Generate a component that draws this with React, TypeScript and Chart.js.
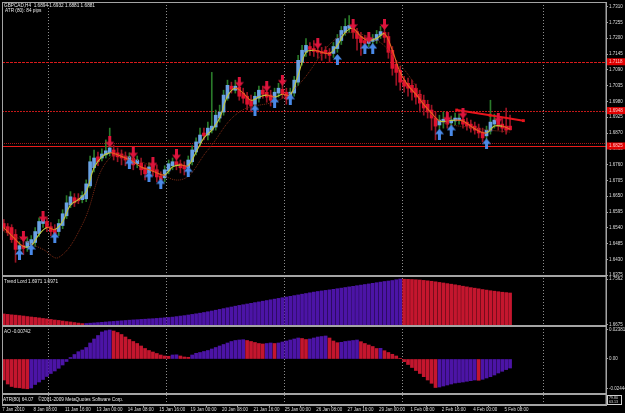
import React, { useEffect, useRef } from 'react';
import { Chart, registerables } from 'chart.js';

Chart.register(...registerables);

// ---------------- data ----------------
const xTickLabels = ['7 Jan 2010', '8 Jan 08:00', '11 Jan 16:00', '13 Jan 00:00', '14 Jan 08:00', '15 Jan 16:00', '19 Jan 00:00', '20 Jan 08:00', '21 Jan 16:00', '25 Jan 00:00', '26 Jan 08:00', '27 Jan 16:00', '29 Jan 00:00', '1 Feb 08:00', '2 Feb 16:00', '4 Feb 00:00', '5 Feb 08:00'];
const xTickBars = [0, 8, 16, 24, 32, 40, 48, 56, 64, 72, 80, 88, 96, 104, 112, 120, 128];
const priceTicks = [1.6375, 1.643, 1.6485, 1.654, 1.6595, 1.665, 1.6705, 1.676, 1.6815, 1.687, 1.6925, 1.698, 1.7035, 1.709, 1.7145, 1.72, 1.7255, 1.731];

// [open, high, low, close] per H4 bar
const candles = [
  [1.6555, 1.6569, 1.6530, 1.6541], [1.6544, 1.6555, 1.6513, 1.6523], [1.6541, 1.6551, 1.6489, 1.6499], [1.6517, 1.6534, 1.6420, 1.6465],
  [1.6465, 1.6492, 1.6437, 1.6478], [1.6478, 1.6499, 1.6447, 1.6468], [1.6472, 1.6506, 1.6458, 1.6492], [1.6482, 1.6513, 1.6465, 1.6499],
  [1.6489, 1.6541, 1.6475, 1.6527], [1.6520, 1.6575, 1.6510, 1.6562], [1.6555, 1.6593, 1.6541, 1.6569], [1.6562, 1.6575, 1.6527, 1.6541],
  [1.6544, 1.6558, 1.6513, 1.6527], [1.6534, 1.6551, 1.6499, 1.6520], [1.6527, 1.6569, 1.6513, 1.6555], [1.6548, 1.6603, 1.6537, 1.6589],
  [1.6582, 1.6652, 1.6572, 1.6627], [1.6620, 1.6666, 1.6610, 1.6648], [1.6645, 1.6659, 1.6614, 1.6627], [1.6641, 1.6659, 1.6624, 1.6634],
  [1.6638, 1.6666, 1.6627, 1.6652], [1.6641, 1.6707, 1.6631, 1.6693], [1.6686, 1.6790, 1.6679, 1.6770], [1.6749, 1.6811, 1.6735, 1.6783],
  [1.6787, 1.6804, 1.6756, 1.6770], [1.6783, 1.6815, 1.6773, 1.6797], [1.6794, 1.6846, 1.6783, 1.6808], [1.6801, 1.6887, 1.6790, 1.6818],
  [1.6811, 1.6828, 1.6776, 1.6790], [1.6801, 1.6818, 1.6770, 1.6787], [1.6797, 1.6811, 1.6759, 1.6783], [1.6790, 1.6804, 1.6756, 1.6776],
  [1.6773, 1.6801, 1.6759, 1.6787], [1.6783, 1.6797, 1.6742, 1.6759], [1.6763, 1.6790, 1.6749, 1.6776], [1.6766, 1.6783, 1.6724, 1.6742],
  [1.6749, 1.6759, 1.6707, 1.6728], [1.6731, 1.6766, 1.6714, 1.6752], [1.6756, 1.6776, 1.6721, 1.6738], [1.6742, 1.6759, 1.6700, 1.6717],
  [1.6721, 1.6735, 1.6676, 1.6707], [1.6714, 1.6756, 1.6700, 1.6742], [1.6738, 1.6776, 1.6728, 1.6763], [1.6756, 1.6783, 1.6742, 1.6770],
  [1.6770, 1.6783, 1.6742, 1.6759], [1.6763, 1.6776, 1.6731, 1.6749], [1.6756, 1.6770, 1.6724, 1.6745], [1.6749, 1.6790, 1.6735, 1.6776],
  [1.6770, 1.6825, 1.6759, 1.6811], [1.6804, 1.6853, 1.6794, 1.6839], [1.6835, 1.6887, 1.6825, 1.6863], [1.6870, 1.6887, 1.6846, 1.6860],
  [1.6863, 1.6908, 1.6846, 1.6887], [1.6880, 1.7081, 1.6870, 1.6894], [1.6891, 1.6950, 1.6880, 1.6932], [1.6922, 1.6967, 1.6908, 1.6943],
  [1.6943, 1.7019, 1.6932, 1.7002], [1.6991, 1.7054, 1.6984, 1.7036], [1.7033, 1.7047, 1.7009, 1.7022], [1.7019, 1.7054, 1.7009, 1.7033],
  [1.7029, 1.7043, 1.6984, 1.6998], [1.7009, 1.7026, 1.6974, 1.6991], [1.6998, 1.7012, 1.6950, 1.6970], [1.6984, 1.7002, 1.6943, 1.6964],
  [1.6970, 1.7012, 1.6957, 1.6998], [1.6991, 1.7033, 1.6977, 1.7019], [1.7019, 1.7033, 1.6991, 1.7005], [1.7012, 1.7026, 1.6977, 1.6995],
  [1.7002, 1.7019, 1.6964, 1.6984], [1.6991, 1.7026, 1.6977, 1.7012], [1.7009, 1.7043, 1.6995, 1.7026], [1.7022, 1.7040, 1.6991, 1.7005],
  [1.7012, 1.7026, 1.6970, 1.6988], [1.6995, 1.7026, 1.6974, 1.7012], [1.7009, 1.7067, 1.6998, 1.7054], [1.7047, 1.7140, 1.7036, 1.7123],
  [1.7116, 1.7175, 1.7106, 1.7158], [1.7151, 1.7199, 1.7137, 1.7175], [1.7171, 1.7185, 1.7140, 1.7161], [1.7164, 1.7192, 1.7137, 1.7154],
  [1.7158, 1.7178, 1.7130, 1.7151], [1.7154, 1.7168, 1.7123, 1.7147], [1.7158, 1.7171, 1.7130, 1.7147], [1.7151, 1.7164, 1.7116, 1.7140],
  [1.7147, 1.7185, 1.7133, 1.7171], [1.7164, 1.7213, 1.7151, 1.7199], [1.7192, 1.7241, 1.7178, 1.7227], [1.7220, 1.7268, 1.7210, 1.7241],
  [1.7234, 1.7279, 1.7220, 1.7244], [1.7237, 1.7255, 1.7199, 1.7220], [1.7223, 1.7234, 1.7158, 1.7199], [1.7206, 1.7220, 1.7140, 1.7185],
  [1.7192, 1.7210, 1.7164, 1.7182], [1.7182, 1.7210, 1.7171, 1.7196], [1.7189, 1.7213, 1.7178, 1.7199], [1.7192, 1.7227, 1.7182, 1.7213],
  [1.7210, 1.7241, 1.7199, 1.7223], [1.7220, 1.7234, 1.7185, 1.7203], [1.7206, 1.7220, 1.7130, 1.7151], [1.7158, 1.7171, 1.7071, 1.7095],
  [1.7109, 1.7123, 1.7036, 1.7081], [1.7088, 1.7102, 1.7019, 1.7047], [1.7054, 1.7067, 1.7012, 1.7033], [1.7043, 1.7061, 1.6998, 1.7026],
  [1.7036, 1.7054, 1.6984, 1.7012], [1.7026, 1.7040, 1.6970, 1.6995], [1.7005, 1.7019, 1.6943, 1.6974], [1.6984, 1.7002, 1.6932, 1.6957],
  [1.6970, 1.6984, 1.6922, 1.6943], [1.6950, 1.6967, 1.6880, 1.6922], [1.6922, 1.6943, 1.6846, 1.6894], [1.6898, 1.6932, 1.6880, 1.6915],
  [1.6908, 1.6943, 1.6887, 1.6918], [1.6915, 1.6932, 1.6887, 1.6901], [1.6905, 1.6929, 1.6891, 1.6915], [1.6912, 1.6939, 1.6898, 1.6922],
  [1.6915, 1.6936, 1.6901, 1.6922], [1.6918, 1.6932, 1.6887, 1.6901], [1.6908, 1.6922, 1.6880, 1.6894], [1.6901, 1.6915, 1.6873, 1.6887],
  [1.6894, 1.6908, 1.6866, 1.6880], [1.6887, 1.6901, 1.6853, 1.6870], [1.6873, 1.6887, 1.6839, 1.6853], [1.6860, 1.6894, 1.6846, 1.6880],
  [1.6877, 1.6984, 1.6866, 1.6908], [1.6901, 1.6936, 1.6887, 1.6915], [1.6912, 1.6925, 1.6880, 1.6894], [1.6901, 1.6922, 1.6873, 1.6887],
  [1.6894, 1.6957, 1.6866, 1.6880], [1.6894, 1.6932, 1.6881, 1.6881],
];

const maFastBars = [0, 3, 5, 7, 9, 11, 13, 15, 17, 19, 21, 23, 25, 27, 29, 31, 33, 35, 37, 39, 41, 43, 45, 47, 49, 51, 53, 55, 57, 59, 61, 63, 65, 67, 69, 71, 73, 75, 77, 79, 81, 83, 85, 87, 89, 91, 93, 95, 97, 99, 101, 103, 105, 107, 109, 111, 113, 115, 117, 119, 121, 123, 125, 127, 129];
const maFastVals = [1.6541, 1.6499, 1.6475, 1.6478, 1.6517, 1.6541, 1.6534, 1.6562, 1.6620, 1.6638, 1.6666, 1.6749, 1.6787, 1.6801, 1.6794, 1.6783, 1.6770, 1.6752, 1.6742, 1.6731, 1.6724, 1.6752, 1.6759, 1.6756, 1.6804, 1.6853, 1.6880, 1.6922, 1.6998, 1.7026, 1.7009, 1.6984, 1.6995, 1.7002, 1.6995, 1.7005, 1.7002, 1.7071, 1.7151, 1.7158, 1.7151, 1.7147, 1.7175, 1.7220, 1.7234, 1.7206, 1.7192, 1.7199, 1.7216, 1.7158, 1.7081, 1.7036, 1.7005, 1.6970, 1.6939, 1.6912, 1.6912, 1.6915, 1.6912, 1.6894, 1.6877, 1.6870, 1.6894, 1.6894, 1.6884];

const maSlowBars = [0, 10, 14, 20, 27, 35, 45, 52, 60, 70, 75, 86, 95, 100, 104, 110, 120, 129];
const maSlowVals = [1.6527, 1.6465, 1.6437, 1.6551, 1.6783, 1.6770, 1.6707, 1.6811, 1.6943, 1.6984, 1.7036, 1.7210, 1.7192, 1.7123, 1.7054, 1.6922, 1.6887, 1.6873];

const arrowDownBars = [5, 10, 27, 33, 38, 44, 60, 67, 71, 80, 89, 93, 97, 113, 117, 126];
const arrowDownVals = [1.6510, 1.6579, 1.6839, 1.6801, 1.6766, 1.6794, 1.7047, 1.7033, 1.7054, 1.7182, 1.7248, 1.7203, 1.7248, 1.6925, 1.6939, 1.6922];
const arrowUpBars = [4, 7, 13, 32, 37, 40, 47, 64, 69, 73, 85, 92, 94, 111, 114, 123];
const arrowUpVals = [1.6447, 1.6465, 1.6506, 1.6763, 1.6717, 1.6693, 1.6735, 1.6950, 1.6977, 1.6988, 1.7126, 1.7164, 1.7164, 1.6866, 1.6880, 1.6832];

const levelPrices = [1.7118, 1.6948, 1.6836, 1.6825];
const levelBoxIdx = [0, 1, 3];
const trendBars = [115.4, 123.9, 132.4];
const trendVals = [1.6950, 1.6932, 1.6913];
const gridBars = [11.3, 41.3, 71.4, 101.4, 137.4];

const trendLord = [
  1.6888, 1.6880, 1.6871, 1.6865, 1.6857, 1.6848, 1.6838, 1.6829, 1.6821, 1.6812, 1.6801, 1.6793, 1.6782, 1.6771, 1.6763, 1.6752, 1.6741, 1.6733, 1.6722, 1.6712, 1.6702,
  1.6704, 1.6710, 1.6715, 1.6721, 1.6727, 1.6733, 1.6739, 1.6744, 1.6750, 1.6756, 1.6762, 1.6768, 1.6773, 1.6777, 1.6783, 1.6787, 1.6793, 1.6796, 1.6802, 1.6808,
  1.6814, 1.6820, 1.6827, 1.6837, 1.6847, 1.6856, 1.6868, 1.6879, 1.6891, 1.6903, 1.6916, 1.6930, 1.6945, 1.6960, 1.6976, 1.6991, 1.7007, 1.7022, 1.7038, 1.7053,
  1.7066, 1.7080, 1.7093, 1.7107, 1.7120, 1.7134, 1.7147, 1.7161, 1.7174, 1.7188, 1.7201, 1.7215, 1.7228, 1.7242, 1.7255, 1.7269, 1.7282, 1.7296, 1.7309, 1.7321,
  1.7332, 1.7342, 1.7352, 1.7363, 1.7375, 1.7386, 1.7398, 1.7410, 1.7421, 1.7433, 1.7444, 1.7456, 1.7467, 1.7479, 1.7491, 1.7502, 1.7514, 1.7523, 1.7533, 1.7548, 1.7562,
  1.7558, 1.7555, 1.7552, 1.7548, 1.7543, 1.7535, 1.7527, 1.7518, 1.7508, 1.7496, 1.7485, 1.7473, 1.7462, 1.7450, 1.7437, 1.7423, 1.7410, 1.7396, 1.7385, 1.7373,
  1.7359, 1.7348, 1.7336, 1.7327, 1.7317, 1.7307, 1.7300, 1.7292,
];
const trendLordTicks = [1.6675, 1.7562];

const aoValues = [
  -0.01724, -0.02053, -0.02258, -0.02340, -0.02364, -0.02414, -0.02444, -0.02381, -0.02094, -0.01888,
  -0.01683, -0.01437, -0.01190, -0.00985, -0.00764, -0.00493, -0.00205, 0.00123, 0.00369, 0.00599,
  0.00739, 0.00944, 0.01314, 0.01642, 0.01929, 0.02217, 0.02323, 0.02381, 0.02299, 0.02176,
  0.02011, 0.01806, 0.01601, 0.01437, 0.01273, 0.01067, 0.00862, 0.00698, 0.00575, 0.00452,
  0.00328, 0.00246, 0.00222, 0.00328, 0.00345, 0.00246, 0.00164, 0.00140, 0.00328, 0.00468,
  0.00534, 0.00616, 0.00698, 0.00821, 0.00944, 0.01067, 0.01190, 0.01314, 0.01437, 0.01519,
  0.01560, 0.01585, 0.01519, 0.01437, 0.01355, 0.01273, 0.01232, 0.01273, 0.01314, 0.01273,
  0.01314, 0.01396, 0.01478, 0.01560, 0.01642, 0.01724, 0.01683, 0.01601, 0.01642, 0.01724,
  0.01806, 0.01847, 0.01888, 0.01724, 0.01478, 0.01338, 0.01371, 0.01437, 0.01478, 0.01519,
  0.01560, 0.01420, 0.01273, 0.01149, 0.01026, 0.00862, 0.00878, 0.00681, 0.00534, 0.00386,
  0.00246, 0.00057, -0.00222, -0.00452, -0.00698, -0.00944, -0.01190, -0.01453, -0.01724, -0.01995,
  -0.02340, -0.02299, -0.02217, -0.02135, -0.02053, -0.01970, -0.01929, -0.01888, -0.01831, -0.01782,
  -0.01724, -0.01749, -0.01667, -0.01560, -0.01453, -0.01314, -0.01150, -0.01010, -0.00870, -0.00742,
];
const aoTicks = [0.02381, 0, -0.02444];
const atrAxisLabels = ['79.80', '63.13'];

const headerLine1 = 'GBPCAD,H4  1.6894 1.6932 1.6881 1.6881';
const headerLine2 = 'ATR (80): 84 pips';
const trendLordTitle = 'Trend Lord 1.6971 1.6971';
const aoTitle = 'AO -0.00742';
const atrTitle = 'ATR(80) 64.07';
const copyrightText = '\u00A92001-2009 MetaQuotes Software Corp.';

// ---------------- layout / style ----------------
const FONT = 'Liberation Sans';
const X_MIN = -0.45;
const X_MAX = 153.44;
const MAIN_MIN = 1.63723;
const MAIN_MAX = 1.7326;
const TL_MIN = 1.66557;
const TL_MAX = 1.76199;
const AO_MIN = -0.02874;
const AO_MAX = 0.02709;
const GREY = '#a4a4a4';
const LABEL = '#dedede';
const PURPLE = '#4c14a6';
const CRIMSON = '#c4162e';
const levelStyles = [
  { color: '#d81a1a', dash: [3, 1] },
  { color: '#c41818', dash: [2, 1] },
  { color: '#a81616', dash: [1, 1] },
  { color: '#e81c1c', dash: [] },
];

function makeArrow(color: string, up: boolean) {
  const c = document.createElement('canvas');
  c.width = 9;
  c.height = 11;
  const g = c.getContext('2d')!;
  g.fillStyle = color;
  g.beginPath();
  if (up) {
    g.moveTo(4.5, 0); g.lineTo(9, 5.5); g.lineTo(6, 5.5); g.lineTo(6, 11);
    g.lineTo(3, 11); g.lineTo(3, 5.5); g.lineTo(0, 5.5);
  } else {
    g.moveTo(4.5, 11); g.lineTo(9, 5.5); g.lineTo(6, 5.5); g.lineTo(6, 0);
    g.lineTo(3, 0); g.lineTo(3, 5.5); g.lineTo(0, 5.5);
  }
  g.closePath();
  g.fill();
  return c;
}

const mtPlugin = {
  id: 'mtDecor',
  beforeDatasetsDraw(chart: any) {
    const { ctx, chartArea: a, scales } = chart;
    const xs = scales.x;
    const ys = scales.y;
    ctx.save();
    ctx.strokeStyle = '#8e8e8e';
    ctx.lineWidth = 1;
    ctx.setLineDash([1, 2]);
    for (const b of gridBars) {
      const px = Math.round(xs.getPixelForValue(b)) + 0.5;
      ctx.beginPath();
      ctx.moveTo(px, a.top);
      ctx.lineTo(px, a.bottom);
      ctx.stroke();
    }
    levelPrices.forEach((p, i) => {
      const py = Math.round(ys.getPixelForValue(p)) + 0.5;
      ctx.strokeStyle = levelStyles[i].color;
      ctx.setLineDash(levelStyles[i].dash);
      ctx.beginPath();
      ctx.moveTo(a.left, py);
      ctx.lineTo(a.right, py);
      ctx.stroke();
    });
    ctx.restore();
  },
  afterDraw(chart: any) {
    const { ctx, chartArea: a, scales } = chart;
    ctx.save();
    ctx.strokeStyle = GREY;
    ctx.lineWidth = 1;
    ctx.setLineDash([]);
    for (const id of ['y', 'yTL', 'yAO', 'yATR']) {
      const s = scales[id];
      ctx.strokeRect(a.left + 0.5, s.top + 0.5, a.right - a.left - 0.5, s.bottom - s.top - 1);
    }
    const ys = scales.y;
    ctx.font = `4.5px "${FONT}"`;
    ctx.textBaseline = 'middle';
    for (const i of levelBoxIdx) {
      const py = ys.getPixelForValue(levelPrices[i]);
      ctx.fillStyle = '#e00000';
      ctx.fillRect(a.right + 1, py - 3.5, 625 - a.right - 1, 7);
      ctx.fillStyle = '#ffc4c4';
      ctx.fillText(levelPrices[i].toFixed(4), a.right + 3, py);
    }
    const sa = scales.yATR;
    ctx.strokeStyle = '#cfcfcf';
    ctx.strokeRect(a.right + 1.5, sa.top + 1.5, 14, sa.bottom - sa.top - 2);
    ctx.fillStyle = LABEL;
    ctx.font = `3.6px "${FONT}"`;
    ctx.fillText(atrAxisLabels[0], a.right + 3, sa.top + 3.6);
    ctx.fillText(atrAxisLabels[1], a.right + 3, sa.top + 7.6);
    ctx.font = `4.7px "${FONT}"`;
    ctx.fillStyle = '#e8e8e8';
    ctx.fillText(headerLine1, a.left + 2, ys.top + 3.5);
    ctx.fillText(headerLine2, a.left + 3, ys.top + 9);
    ctx.fillText(trendLordTitle, a.left + 2, scales.yTL.top + 5.5);
    ctx.fillText(aoTitle, a.left + 2, scales.yAO.top + 5.5);
    ctx.fillText(copyrightText, a.left + 36, sa.top + 5.5);
    ctx.fillText(atrTitle, a.left + 1, sa.top + 5.5);
    ctx.restore();
  },
};

export default function App() {
  const ref = useRef<HTMLCanvasElement>(null);

  useEffect(() => {
    const canvas = ref.current;
    if (!canvas) return;
    const downImg = makeArrow('#dc143c', false);
    const upImg = makeArrow('#4a8ae8', true);
    const bull = candles.map((c) => c[3] >= c[0]);
    const tickFont = { family: FONT, size: 4.5 };

    const yBase = () => ({
      type: 'linear',
      position: 'right',
      stack: 'panes',
      offset: false,
      grid: { display: true, drawOnChartArea: false, drawTicks: true, tickLength: 2, color: GREY },
      border: { display: true, color: GREY },
      afterFit: (s: any) => { s.width = 19; s.paddingTop = 0; s.paddingBottom = 0; },
    });

    const chart = new Chart(canvas, {
      type: 'bar',
      data: {
        datasets: [
          {
            type: 'line', label: 'down', yAxisID: 'y', order: 0, showLine: false,
            data: arrowDownBars.map((b, i) => ({ x: b, y: arrowDownVals[i] })),
            pointStyle: downImg, pointRadius: 4,
          },
          {
            type: 'line', label: 'up', yAxisID: 'y', order: 0, showLine: false,
            data: arrowUpBars.map((b, i) => ({ x: b, y: arrowUpVals[i] })),
            pointStyle: upImg, pointRadius: 4,
          },
          {
            type: 'line', label: 'trendline', yAxisID: 'y', order: 1,
            data: trendBars.map((b, i) => ({ x: b, y: trendVals[i] })),
            borderColor: '#e8141c', borderWidth: 2, pointStyle: 'rect', pointRadius: 2,
            pointBackgroundColor: '#e8141c', pointBorderWidth: 0, tension: 0,
          },
          {
            type: 'line', label: 'maFast', yAxisID: 'y', order: 2,
            data: maFastBars.map((b, i) => ({ x: b, y: maFastVals[i] })),
            borderWidth: 1.1, pointRadius: 0, tension: 0.35, borderColor: '#c8cc38',
            segment: { borderColor: (c: any) => (c.p1.parsed.y >= c.p0.parsed.y ? '#bfc83a' : '#e4641e') },
          },
          {
            type: 'line', label: 'maSlow', yAxisID: 'y', order: 3,
            data: maSlowBars.map((b, i) => ({ x: b, y: maSlowVals[i] })),
            borderWidth: 1, borderColor: '#7e2a14', borderDash: [1, 1], pointRadius: 0, tension: 0.4,
          },
          {
            type: 'bar', label: 'body', yAxisID: 'y', order: 4, grouped: false, barThickness: 3, minBarLength: 1,
            data: candles.map((c, i) => ({ x: i, y: [c[0], c[3]] })),
            backgroundColor: bull.map((b) => (b ? '#6aa2e4' : '#e0122e')),
          },
          {
            type: 'bar', label: 'wick', yAxisID: 'y', order: 5, grouped: false, barThickness: 1,
            data: candles.map((c, i) => ({ x: i, y: [c[2], c[1]] })),
            backgroundColor: bull.map((b) => (b ? '#2a7a2a' : '#9a1424')),
          },
          {
            type: 'bar', label: 'Trend Lord', yAxisID: 'yTL', order: 6, grouped: false, barThickness: 3, base: TL_MIN,
            data: trendLord.map((v, i) => ({ x: i, y: v })),
            backgroundColor: trendLord.map((v, i) => (i > 0 && v > trendLord[i - 1] ? PURPLE : CRIMSON)),
          },
          {
            type: 'bar', label: 'AO', yAxisID: 'yAO', order: 6, grouped: false, barThickness: 3,
            data: aoValues.map((v, i) => ({ x: i, y: v })),
            backgroundColor: aoValues.map((v, i) => (i > 0 && v > aoValues[i - 1] ? PURPLE : CRIMSON)),
          },
        ],
      },
      options: {
        responsive: false,
        maintainAspectRatio: false,
        animation: false,
        events: [],
        devicePixelRatio: 1,
        layout: { padding: { top: 2, left: 2, right: 0, bottom: 0 }, autoPadding: false },
        plugins: { legend: { display: false }, tooltip: { enabled: false }, title: { display: false } },
        scales: {
          x: {
            type: 'linear', position: 'bottom', min: X_MIN, max: X_MAX, offset: false,
            grid: { display: true, drawOnChartArea: false, drawTicks: true, tickLength: 2, color: GREY },
            border: { display: true, color: GREY },
            ticks: {
              color: LABEL, font: tickFont, padding: 0, autoSkip: false, maxRotation: 0, minRotation: 0,
              align: 'start', callback: (_v: any, i: number) => xTickLabels[i] ?? '',
            },
            afterBuildTicks: (s: any) => { s.ticks = xTickBars.map((b) => ({ value: b - 0.4 })); },
            afterFit: (s: any) => { s.height = 8; s.paddingLeft = 0; s.paddingRight = 0; },
          },
          y: {
            ...yBase(), min: MAIN_MIN, max: MAIN_MAX, stackWeight: 274, weight: 1,
            ticks: { color: LABEL, font: tickFont, padding: 1, autoSkip: false, callback: (v: any) => Number(v).toFixed(4) },
            afterBuildTicks: (s: any) => { s.ticks = priceTicks.map((v) => ({ value: v })); },
          },
          yTL: {
            ...yBase(), min: TL_MIN, max: TL_MAX, stackWeight: 50, weight: 2,
            ticks: { color: LABEL, font: tickFont, padding: 1, autoSkip: false, callback: (v: any) => Number(v).toFixed(4) },
            afterBuildTicks: (s: any) => { s.ticks = trendLordTicks.map((v) => ({ value: v })); },
          },
          yAO: {
            ...yBase(), min: AO_MIN, max: AO_MAX, stackWeight: 68, weight: 3,
            ticks: { color: LABEL, font: tickFont, padding: 1, autoSkip: false, callback: (v: any) => (Number(v) === 0 ? '0.00' : Number(v).toFixed(5)) },
            afterBuildTicks: (s: any) => { s.ticks = aoTicks.map((v) => ({ value: v })); },
          },
          yATR: {
            ...yBase(), min: 0, max: 1, stackWeight: 11, weight: 4,
            grid: { display: true, drawOnChartArea: false, drawTicks: false, color: GREY },
            ticks: { display: false },
          },
        },
      } as any,
      plugins: [mtPlugin],
    } as any);

    return () => chart.destroy();
  }, []);

  return (
    <div style={{ position: 'fixed', left: 0, top: 0, width: 625, height: 413, background: '#000', overflow: 'hidden' }}>
      <canvas ref={ref} width={625} height={413} style={{ display: 'block', width: 625, height: 413 }} />
    </div>
  );
}
